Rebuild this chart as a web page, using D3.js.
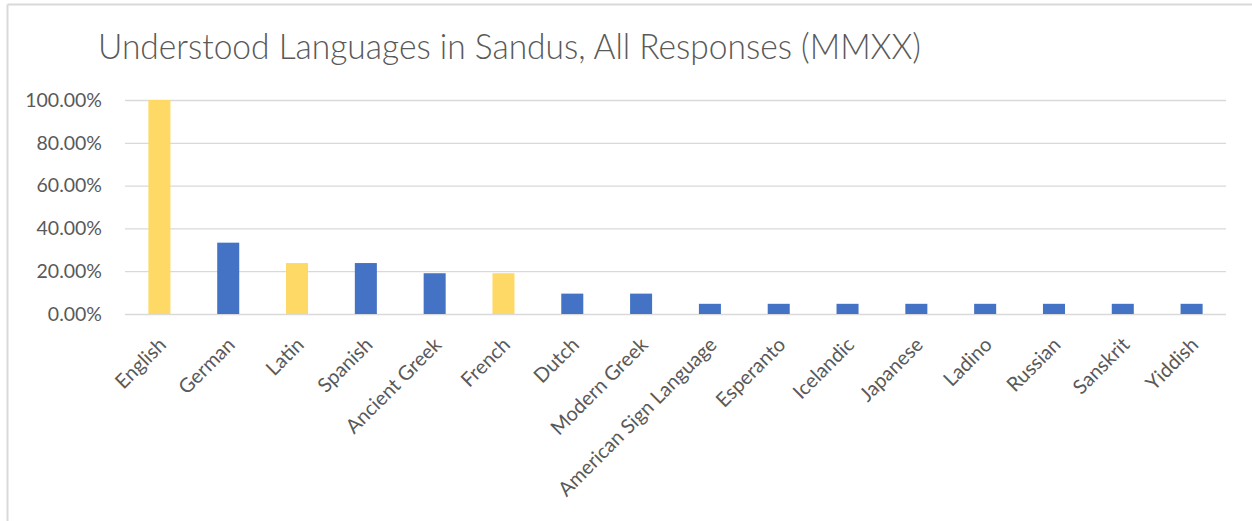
<!DOCTYPE html>
<html>
<head>
<meta charset="utf-8">
<script src="https://cdn.jsdelivr.net/npm/d3@7"></script>
<style>
  body { margin: 0; background: #fff; }
  text { font-family: Lato, "Open Sans", sans-serif; fill: #595959; }
</style>
</head>
<body>
<div id="chart"></div>
<script>
// languages and share of respondents (21 responses)
let languages = ["English", "German", "Latin", "Spanish", "Ancient Greek", "French", "Dutch",
  "Modern Greek", "American Sign Language", "Esperanto", "Icelandic", "Japanese", "Ladino",
  "Russian", "Sanskrit", "Yiddish"];
let shares = [100, 33.33, 23.81, 23.81, 19.05, 19.05, 9.52, 9.52, 4.76, 4.76, 4.76, 4.76,
  4.76, 4.76, 4.76, 4.76];
// highlighted bars
let highlighted = ["English", "Latin", "French"];
let yTicks = [0, 20, 40, 60, 80, 100];

let svgWidth = 1252;
let svgHeight = 521;
let margin = { top: 100, right: 26, bottom: 207, left: 125 };
let chartWidth = svgWidth - margin.left - margin.right;
let chartHeight = svgHeight - margin.top - margin.bottom;

let svg = d3.select("#chart").append("svg")
  .attr("width", svgWidth)
  .attr("height", svgHeight);

// outer frame (only top and left edges are visible in the crop)
svg.append("line").attr("x1", 7.5).attr("x2", svgWidth).attr("y1", 4.5).attr("y2", 4.5)
  .attr("stroke", "#d9d9d9").attr("stroke-width", 2);
svg.append("line").attr("x1", 7.5).attr("x2", 7.5).attr("y1", 4.5).attr("y2", svgHeight)
  .attr("stroke", "#d9d9d9").attr("stroke-width", 2);

svg.append("text")
  .attr("x", 98)
  .attr("y", 59)
  .attr("textLength", 823)
  .attr("lengthAdjust", "spacingAndGlyphs")
  .style("font-size", "35px")
  .style("font-weight", 300)
  .text("Understood Languages in Sandus, All Responses (MMXX)");

let xScale = d3.scaleBand()
  .domain(languages)
  .range([0, chartWidth])
  .paddingInner(0.68)
  .paddingOuter(0.34);

let yScale = d3.scaleLinear()
  .domain([0, 100])
  .range([chartHeight, 0]);

let g = svg.append("g")
  .attr("transform", "translate(" + margin.left + "," + margin.top + ")");

// gridlines + y labels
let yAxis = g.append("g")
  .call(d3.axisLeft(yScale)
    .tickValues(yTicks)
    .tickSize(-chartWidth)
    .tickPadding(23)
    .tickFormat(function(d) { return d.toFixed(2) + "%"; }));
yAxis.select(".domain").remove();
yAxis.selectAll(".tick line").attr("stroke", "#d9d9d9").attr("stroke-width", 1.3);
yAxis.selectAll(".tick text").style("font-size", "19.5px").attr("fill", "#595959");

g.selectAll("rect")
  .data(languages)
  .enter()
  .append("rect")
  .attr("x", function(d) { return xScale(d); })
  .attr("y", function(d, i) { return yScale(shares[i]); })
  .attr("width", xScale.bandwidth())
  .attr("height", function(d, i) { return chartHeight - yScale(shares[i]); })
  .attr("fill", function(d) { return highlighted.includes(d) ? "#FFD966" : "#4472C4"; });

// rotated category labels
let xAxis = g.append("g")
  .attr("transform", "translate(0," + chartHeight + ")")
  .call(d3.axisBottom(xScale).tickSize(0).tickPadding(0));
xAxis.select(".domain").remove();
xAxis.selectAll(".tick text")
  .attr("text-anchor", "end")
  .attr("dy", 0)
  .attr("transform", "translate(8,32) rotate(-45)")
  .style("font-size", "20px")
  .attr("fill", "#595959");
</script>
</body>
</html>
